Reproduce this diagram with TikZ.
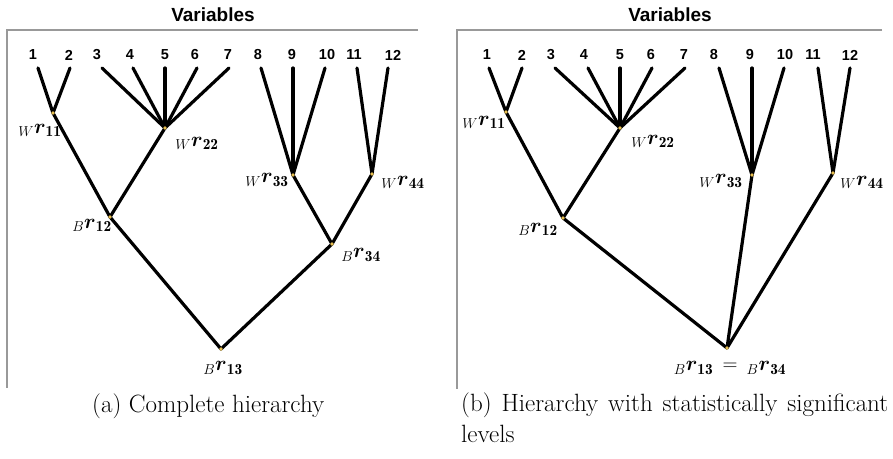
\documentclass[tikz,border=0pt]{standalone}
\usepackage{amsmath}
\usepackage{fontspec}
\newfontfamily\arialb{Liberation Sans}[BoldFont={Liberation Sans Bold}]
\begin{document}
\begin{tikzpicture}[x=1pt,y=-1pt,
  branch/.style={line width=3.2pt,line cap=round,line join=round,black},
  frameline/.style={line width=1.2pt,gray!80},
  leafnum/.style={font=\arialb\bfseries\fontsize{14.5}{16}\selectfont,inner sep=0pt},
  title/.style={font=\arialb\bfseries\fontsize{19}{22}\selectfont,inner sep=0pt},
  rlabel/.style={font=\fontsize{22}{24}\selectfont,inner sep=0pt},
  caption/.style={font=\fontsize{25}{31}\selectfont,inner sep=0pt},
  dot/.style={fill={rgb,255:red,230;green,190;blue,80}}
]
\useasboundingbox (0,0) rectangle (893,458);

% ---------------- panel (a) ----------------
\node[title] (atitle) at (213,15) {Variables};
\coordinate (aTL) at (7,30);
\coordinate (aTR) at (418,30);
\coordinate (aBL) at (7,388);
\draw[frameline] (aTR) -- (aTL) -- (aBL);

\foreach \n/\x/\lx in {1/38/33,2/70/69,3/102/97,4/133/130,5/165/165,6/197/195,7/229/228,8/261/258,9/293/292,10/325/327,11/357/354,12/388/393}{
  \coordinate (a\n) at (\x,68);
  \node[leafnum] (an\n) at (\lx,55) {\n};
}
\coordinate (aW11) at (53,113);
\coordinate (aW22) at (165,128);
\coordinate (aW33) at (293,175);
\coordinate (aW44) at (372,174);
\coordinate (aB12) at (110,217);
\coordinate (aB34) at (332,244);
\coordinate (aB13) at (221,349);

\draw[branch] (a1) -- (aW11) -- (a2);
\foreach \n in {3,...,7}{\draw[branch] (a\n) -- (aW22);}
\foreach \n in {8,9,10}{\draw[branch] (a\n) -- (aW33);}
\foreach \n in {11,12}{\draw[branch] (a\n) -- (aW44);}
\draw[branch] (aW11) -- (aB12) -- (aW22);
\draw[branch] (aW33) -- (aB34) -- (aW44);
\draw[branch] (aB12) -- (aB13) -- (aB34);
\foreach \p in {aW11,aW22,aW33,aW44,aB12,aB34,aB13}{\fill[dot] (\p) circle (1.8);}

\node[rlabel] (laW11) at (40,130) {${}_{W}\boldsymbol{r}_{\mathbf{11}}$};
\node[rlabel] (laW22) at (197,143) {${}_{W}\boldsymbol{r}_{\mathbf{22}}$};
\node[rlabel] (laW33) at (267,180) {${}_{W}\boldsymbol{r}_{\mathbf{33}}$};
\node[rlabel] (laW44) at (403,182) {${}_{W}\boldsymbol{r}_{\mathbf{44}}$};
\node[rlabel] (laB12) at (92,225) {${}_{B}\boldsymbol{r}_{\mathbf{12}}$};
\node[rlabel] (laB34) at (361,255) {${}_{B}\boldsymbol{r}_{\mathbf{34}}$};
\node[rlabel] (laB13) at (223,368) {${}_{B}\boldsymbol{r}_{\mathbf{13}}$};

\node[caption,anchor=west] (capa) at (92,406) {(a) Complete hierarchy};

% ---------------- panel (b) ----------------
\node[title] (btitle) at (670,15) {Variables};
\coordinate (bTL) at (457,30);
\coordinate (bTR) at (882,30);
\coordinate (bBL) at (457,389);
\draw[frameline] (bTR) -- (bTL) -- (bBL);

\foreach \n/\x/\lx in {1/489/487,2/522/522,3/555/551,4/588/584,5/620/620,6/652/651,7/685/684,8/719/714,9/752/750,10/784/785,11/818/813,12/850/850}{
  \coordinate (b\n) at (\x,68);
  \node[leafnum] (bn\n) at (\lx,55) {\n};
}
\coordinate (bW11) at (506,112);
\coordinate (bW22) at (620,128);
\coordinate (bW33) at (752,175);
\coordinate (bW44) at (833,173);
\coordinate (bB12) at (563,218);
\coordinate (bB13) at (727,348);

\draw[branch] (b1) -- (bW11) -- (b2);
\foreach \n in {3,...,7}{\draw[branch] (b\n) -- (bW22);}
\foreach \n in {8,9,10}{\draw[branch] (b\n) -- (bW33);}
\foreach \n in {11,12}{\draw[branch] (b\n) -- (bW44);}
\draw[branch] (bW11) -- (bB12) -- (bW22);
\draw[branch] (bB12) -- (bB13);
\draw[branch] (bW33) -- (bB13);
\draw[branch] (bW44) -- (bB13);
\foreach \p in {bW11,bW22,bW33,bW44,bB12,bB13}{\fill[dot] (\p) circle (1.8);}

\node[rlabel] (lbW11) at (484,122) {${}_{W}\boldsymbol{r}_{\mathbf{11}}$};
\node[rlabel] (lbW22) at (653,141) {${}_{W}\boldsymbol{r}_{\mathbf{22}}$};
\node[rlabel] (lbW33) at (721,181) {${}_{W}\boldsymbol{r}_{\mathbf{33}}$};
\node[rlabel] (lbW44) at (862,182) {${}_{W}\boldsymbol{r}_{\mathbf{44}}$};
\node[rlabel] (lbB12) at (538,229) {${}_{B}\boldsymbol{r}_{\mathbf{12}}$};
\node[rlabel] (lbB13) at (730,368) {${}_{B}\boldsymbol{r}_{\mathbf{13}}\,=\,{}_{B}\boldsymbol{r}_{\mathbf{34}}$};

\node[caption,anchor=north west,text width=427pt,align=justify] (capb) at (461,393)
  {\hyphenpenalty=10000 (b) Hierarchy with statistically significant levels};
\end{tikzpicture}
\end{document}
